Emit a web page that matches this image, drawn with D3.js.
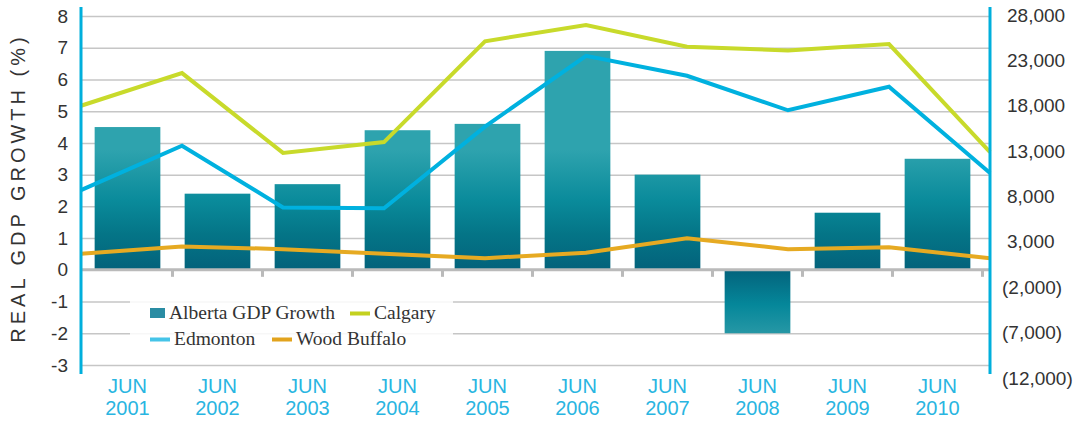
<!DOCTYPE html>
<html>
<head>
<meta charset="utf-8">
<script src="https://cdn.jsdelivr.net/npm/d3@7"></script>
<style>
  body { margin: 0; background: #fff; }
  svg { display: block; }
</style>
</head>
<body>
<div id="chart"></div>
<script>
var width = 1079;
var height = 421;

// data
var years = ["2001", "2002", "2003", "2004", "2005", "2006", "2007", "2008", "2009", "2010"];
var gdpGrowth = [4.5, 2.4, 2.7, 4.4, 4.6, 6.9, 3.0, -2.0, 1.8, 3.5];
var calgary = [18000, 21600, 12800, 14000, 25100, 26900, 24500, 24100, 24800, 12900];
var edmonton = [8700, 13600, 6800, 6700, 15700, 23500, 21300, 17500, 20100, 10600];
var woodBuffalo = [1700, 2500, 2200, 1700, 1200, 1800, 3400, 2200, 2400, 1200];
var leftTicks = [8, 7, 6, 5, 4, 3, 2, 1, 0, -1, -2, -3];
var rightTicks = [28000, 23000, 18000, 13000, 8000, 3000, -2000, -7000, -12000];

var left = 81, right = 990;
var axisBlue = "#00afdc";
var sans = "'Liberation Sans', Arial, sans-serif";
var serif = "'Liberation Serif', 'Times New Roman', serif";

var svg = d3.select("#chart")
    .append("svg")
    .attr("width", width)
    .attr("height", height);

var y = d3.scaleLinear().domain([-3, 8]).range([365, 16]);
var yR = d3.scaleLinear().domain([-12000, 28000]).range([378, 15]);
var x = d3.scaleBand().domain(years).range([82.5, 982.5])
    .paddingInner(0.27).paddingOuter(0.135);
var xp = d3.scalePoint().domain(years).range([left, right]);

// gradients
var defs = svg.append("defs");
var gPos = defs.append("linearGradient").attr("id", "barPos")
    .attr("gradientUnits", "userSpaceOnUse")
    .attr("x1", 0).attr("x2", 0).attr("y1", 150).attr("y2", y(0));
gPos.append("stop").attr("offset", "0%").attr("stop-color", "#2ea3ae");
gPos.append("stop").attr("offset", "42%").attr("stop-color", "#0a8b9b");
gPos.append("stop").attr("offset", "70%").attr("stop-color", "#047587");
gPos.append("stop").attr("offset", "100%").attr("stop-color", "#03627b");

var gNeg = defs.append("linearGradient").attr("id", "barNeg")
    .attr("gradientUnits", "userSpaceOnUse")
    .attr("x1", 0).attr("x2", 0).attr("y1", y(0)).attr("y2", y(-2));
gNeg.append("stop").attr("offset", "0%").attr("stop-color", "#03637c");
gNeg.append("stop").attr("offset", "55%").attr("stop-color", "#05879a");
gNeg.append("stop").attr("offset", "100%").attr("stop-color", "#2697a5");

// gridlines
var grid = svg.append("g")
    .attr("transform", "translate(" + left + ",0)")
    .call(d3.axisLeft(y).tickValues(leftTicks.filter(function (d) { return d !== 0; }))
        .tickSize(-(right - left)).tickFormat(""));
grid.select(".domain").remove();
grid.selectAll("line").attr("stroke", "#c6c6c6").attr("stroke-width", 1.5);

// bars
svg.append("g")
    .selectAll("rect")
    .data(gdpGrowth)
    .enter().append("rect")
    .attr("x", function (d, i) { return x(years[i]); })
    .attr("width", x.bandwidth())
    .attr("y", function (d) { return d >= 0 ? y(d) : y(0); })
    .attr("height", function (d) { return Math.abs(y(d) - y(0)); })
    .attr("fill", function (d) { return d >= 0 ? "url(#barPos)" : "url(#barNeg)"; });

// zero line with little ticks between categories
var zero = svg.append("g");
zero.append("line")
    .attr("x1", left).attr("x2", right)
    .attr("y1", y(0)).attr("y2", y(0))
    .attr("stroke", "#bababa").attr("stroke-width", 3);
zero.selectAll("line.tk")
    .data(years)
    .enter().append("line")
    .attr("class", "tk")
    .attr("x1", function (d) { return x(d) + x.bandwidth() + x.step() * x.paddingInner() / 2; })
    .attr("x2", function (d) { return x(d) + x.bandwidth() + x.step() * x.paddingInner() / 2; })
    .attr("y1", y(0)).attr("y2", y(0) + 7)
    .attr("stroke", "#bababa").attr("stroke-width", 3);

// lines
var line = d3.line()
    .x(function (d, i) { return xp(years[i]); })
    .y(function (d) { return yR(d); });

var series = [
    {name: "Calgary", values: calgary, color: "#c8da2b"},
    {name: "Edmonton", values: edmonton, color: "#00b1df"},
    {name: "Wood Buffalo", values: woodBuffalo, color: "#e6aa22"}
];

svg.append("g")
    .selectAll("path")
    .data(series)
    .enter().append("path")
    .attr("d", function (d) { return line(d.values); })
    .attr("fill", "none")
    .attr("stroke", function (d) { return d.color; })
    .attr("stroke-width", 4)
    .attr("stroke-linejoin", "miter");

// legend
var lg = svg.append("g");
lg.append("rect")
    .attr("x", 130).attr("y", 286).attr("width", 323).attr("height", 62)
    .attr("fill", "#fff").attr("fill-opacity", 0.85);

var legendItems = [
    {label: "Alberta GDP Growth", color: "#2a8ca3", type: "box", x: 150, y: 319},
    {label: "Calgary", color: "#c4d11f", type: "line", x: 350, y: 319},
    {label: "Edmonton", color: "#45c4e8", type: "line", x: 150, y: 345},
    {label: "Wood Buffalo", color: "#e2a31d", type: "line", x: 272, y: 345}
];

legendItems.forEach(function (d) {
    if (d.type === "box") {
        lg.append("rect").attr("x", d.x).attr("y", d.y - 11)
            .attr("width", 15).attr("height", 10).attr("fill", d.color);
        lg.append("text").attr("x", d.x + 19).attr("y", d.y).text(d.label);
    } else {
        lg.append("rect").attr("x", d.x).attr("y", d.y - 7.5)
            .attr("width", 20).attr("height", 4).attr("fill", d.color);
        lg.append("text").attr("x", d.x + 24).attr("y", d.y).text(d.label);
    }
});
lg.selectAll("text")
    .attr("font-family", serif)
    .attr("font-size", 19.5)
    .attr("fill", "#333");

// left axis (plain hyphen for negatives, as in the original)
var la = svg.append("g")
    .attr("transform", "translate(" + left + ",0)")
    .call(d3.axisLeft(y).tickValues(leftTicks).tickSize(0).tickPadding(13)
        .tickFormat(function (v) { return String(v); }));
la.select(".domain").remove();
la.selectAll("text")
    .attr("font-family", sans).attr("font-size", 19).attr("fill", "#333");

// right axis
var fmt = d3.format(",");
var ra = svg.append("g")
    .attr("transform", "translate(" + right + ",0)")
    .call(d3.axisRight(yR).tickValues(rightTicks).tickSize(0).tickPadding(17)
        .tickFormat(function (v) { return v < 0 ? "(" + fmt(-v) + ")" : fmt(v); }));
ra.select(".domain").remove();
ra.selectAll("text")
    .attr("font-family", sans).attr("font-size", 19).attr("fill", "#333")
    .attr("dx", function (d) { return d < 0 ? -5 : 0; });

// blue vertical axis lines
[left, right].forEach(function (xx) {
    svg.append("line")
        .attr("x1", xx).attr("x2", xx).attr("y1", 7).attr("y2", 374)
        .attr("stroke", axisBlue).attr("stroke-width", 3);
});

// category labels
var xl = svg.append("g");
xl.selectAll("text.m")
    .data(years)
    .enter().append("text")
    .attr("class", "m")
    .attr("x", function (d) { return x(d) + x.bandwidth() / 2; })
    .attr("y", 393)
    .text("JUN");
xl.selectAll("text.yr")
    .data(years)
    .enter().append("text")
    .attr("class", "yr")
    .attr("x", function (d) { return x(d) + x.bandwidth() / 2; })
    .attr("y", 415)
    .text(function (d) { return d; });
xl.selectAll("text")
    .attr("text-anchor", "middle")
    .attr("font-family", sans)
    .attr("font-size", 20)
    .attr("fill", "#29b5e1");

// y title
svg.append("text")
    .attr("transform", "translate(25,188) rotate(-90)")
    .attr("text-anchor", "middle")
    .attr("font-family", sans)
    .attr("font-size", 20)
    .attr("letter-spacing", 4)
    .attr("fill", "#333")
    .text("REAL GDP GROWTH (%)");
</script>
</body>
</html>
